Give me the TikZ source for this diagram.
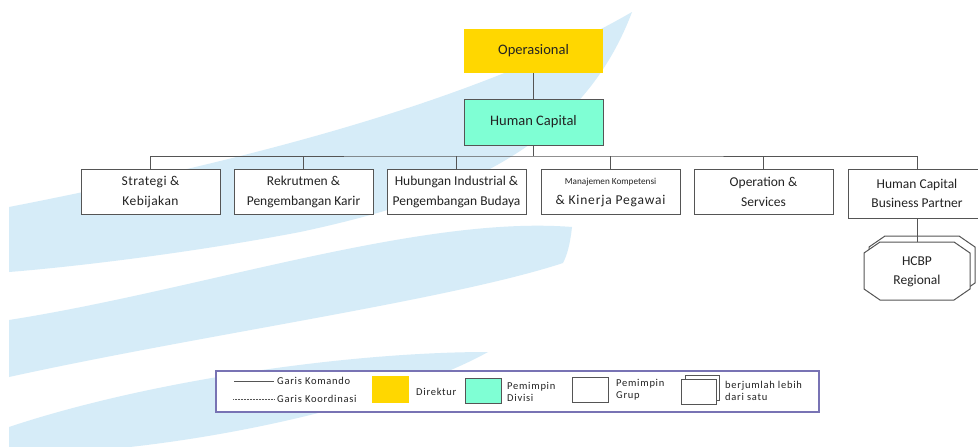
\documentclass[tikz,border=0pt]{standalone}
\usepackage{fontspec}
\setmainfont{Carlito}
\definecolor{swoosh}{RGB}{214,236,248}
\definecolor{gold}{RGB}{255,215,0}
\definecolor{aqua}{RGB}{127,255,212}
\definecolor{linegray}{RGB}{85,85,85}
\definecolor{legframe}{RGB}{120,115,180}
\definecolor{txt}{RGB}{35,35,35}
\tikzset{
  box/.style={draw=linegray, line width=1pt, fill=white, rectangle, minimum width=139pt, minimum height=45pt, inner sep=0pt, align=center, text=txt, font=\fontsize{13.5}{20}\selectfont},
  topbox/.style={rectangle, minimum width=139pt, minimum height=45pt, inner sep=0pt, text=txt, font=\fontsize{14.5}{16}\selectfont},
  conn/.style={draw=linegray, line width=1pt},
  legtxt/.style={anchor=west, inner sep=0pt, text=txt, align=left, font=\fontsize{10.5}{12}\selectfont\addfontfeatures{LetterSpace=7}},
  legsq/.style={rectangle, inner sep=0pt},
}
\begin{document}
\begin{tikzpicture}[x=1pt,y=-1pt]
\useasboundingbox (0,0) rectangle (978,447);
\clip (0,0) rectangle (978,447);
\fill[white] (0,0) rectangle (978,447);
% background swoosh: three blades
\fill[swoosh] (9,207) .. controls (250,160) and (480,100) .. (632,12)
  .. controls (580,150) and (450,200) .. (300,232)
  .. controls (180,255) and (60,268) .. (9,272) -- cycle;
\fill[swoosh] (9,320) .. controls (200,290) and (420,215) .. (572,227)
  .. controls (570,245) and (567,255) .. (563,263)
  .. controls (450,300) and (200,335) .. (9,377) -- cycle;
\fill[swoosh] (9,427) .. controls (150,380) and (350,352) .. (488,352)
  .. controls (420,390) and (280,430) .. (130,447) -- (9,447) -- cycle;
% top nodes
\node[topbox, fill=gold, minimum height=44pt] (op) at (533.5,51) {Operasional};
\node[topbox, fill=aqua, draw=linegray, line width=1pt, minimum height=46pt] (hc) at (533.5,122) {Human Capital};
% children
\node[box] (c1) at (150.5,192) {\addfontfeatures{LetterSpace=3}Strategi \&\\\addfontfeatures{LetterSpace=3}Kebijakan};
\node[box] (c2) at (303.5,192) {Rekrutmen \&\\Pengembangan Karir};
\node[box] (c3) at (456.5,192) {Hubungan Industrial \&\\Pengembangan Budaya};
\node[box] (c4) at (610.5,192) {{\fontsize{9.2}{20}\selectfont Manajemen Kompetensi}\\\addfontfeatures{LetterSpace=6}\& Kinerja Pegawai};
\node[box] (c5) at (763.5,192) {Operation \&\\Services};
\node[box, minimum width=138pt, minimum height=49pt, font=\fontsize{13.5}{19}\selectfont] (c6) at (917,193.5) {Human Capital\\Business Partner};
% connectors
\coordinate (bus) at (533.5,156);
\draw[conn] (op) -- (hc);
\draw[conn] (hc) -- (bus);
\draw[conn] (c1.north) |- (bus) -| (c6.north);
\draw[conn] (c2.north) -- (c2.north |- bus);
\draw[conn] (c3.north) -- (c3.north |- bus);
\draw[conn] (c4.north) -- (c4.north |- bus);
\draw[conn] (c5.north) -- (c5.north |- bus);
% octagon stack
\draw[linegray, line width=1pt, fill=white] (885,236) -- (959,236) -- (975,247) -- (975,283) -- (959,294) -- (885,294) -- (869,283) -- (869,247) -- cycle;
\draw[linegray, line width=1pt, fill=white] (880,242) -- (954,242) -- (970,253) -- (970,289) -- (954,300) -- (880,300) -- (864,289) -- (864,253) -- cycle;
\node[align=center, inner sep=0pt, text=txt, font=\fontsize{13.5}{19}\selectfont] (hr) at (917,272) {HCBP\\Regional};
\coordinate (octtop) at (917,242);
\draw[conn] (c6.south) -- (octtop);
% legend
\draw[legframe, line width=1.5pt, fill=white] (216,371) rectangle (819,412);
\coordinate (sl1) at (234,381); \coordinate (sl2) at (274,381);
\coordinate (dl1) at (233,399); \coordinate (dl2) at (274,399);
\draw[linegray, line width=1pt] (sl1) -- (sl2);
\draw[linegray, line width=0.8pt, dash pattern=on 0.6pt off 0.9pt] (dl1) -- (dl2);
\node[legtxt] (lk) at (277,381) {Garis Komando};
\node[legtxt] (lko) at (277,399) {Garis Koordinasi};
\node[legsq, fill=gold, minimum width=37pt, minimum height=27pt] (sqd) at (390.5,389.5) {};
\node[legtxt] (ld) at (416,392) {Direktur};
\node[legsq, fill=aqua, draw=linegray, line width=1pt, minimum width=36pt, minimum height=25pt] (sqv) at (483,390.5) {};
\node[legtxt] (lv) at (507,392) {Pemimpin\\Divisi};
\node[legsq, fill=white, draw=linegray, line width=1pt, minimum width=36pt, minimum height=25pt] (sqg) at (590,389.5) {};
\node[legtxt] (lg) at (616,390) {Pemimpin\\Grup};
\node[legsq, fill=white, draw=linegray, line width=1pt, minimum width=34pt, minimum height=25pt] (sqb) at (702,387.5) {};
\node[legsq, fill=white, draw=linegray, line width=1pt, minimum width=35pt, minimum height=25pt] (sqf) at (698.5,391.5) {};
\node[legtxt] (lb) at (725,391) {berjumlah lebih\\dari satu};
\end{tikzpicture}
\end{document}
